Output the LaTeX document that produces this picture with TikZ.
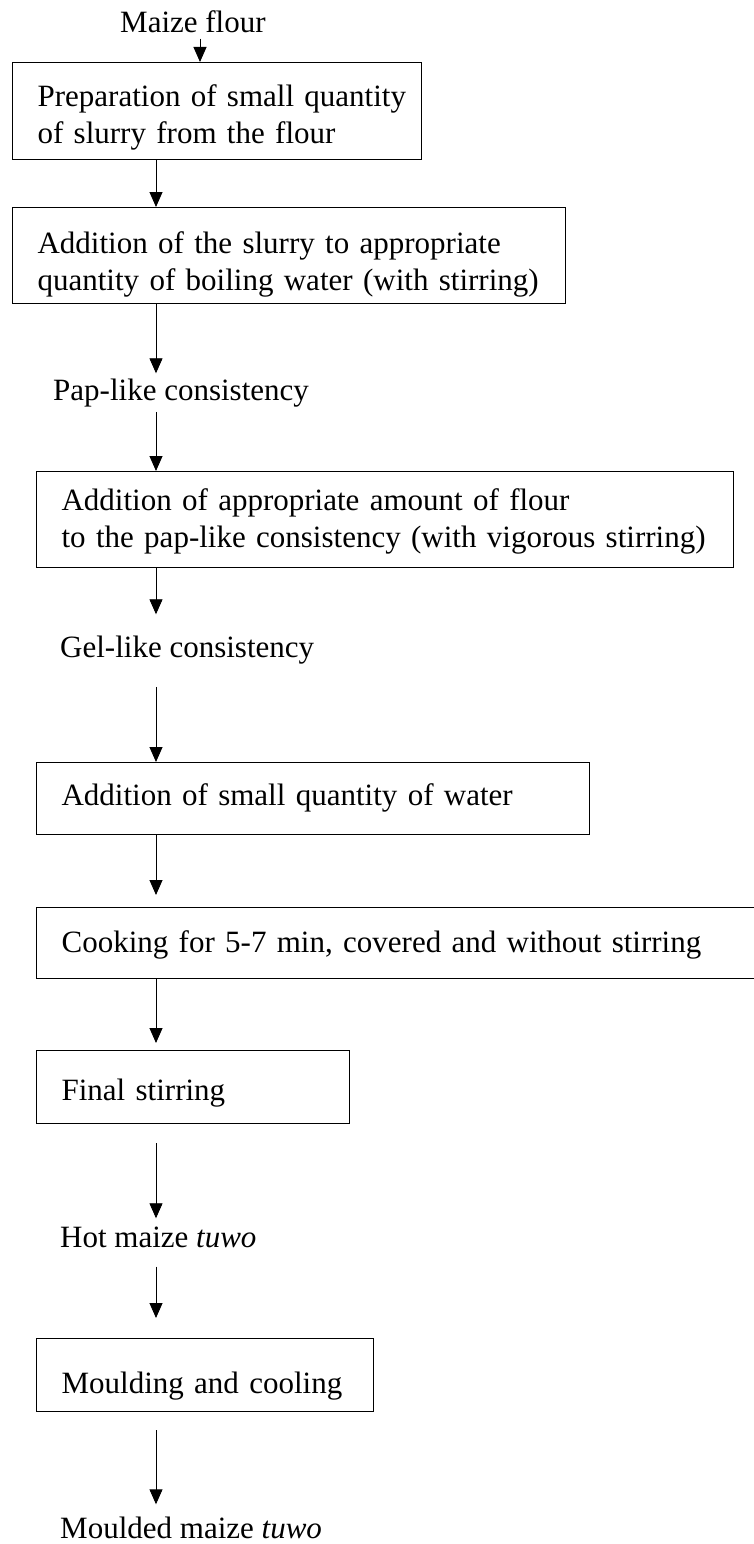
\documentclass[tikz,border=0pt]{standalone}
\usepackage{fontspec}
\setmainfont{Liberation Serif}
\usetikzlibrary{arrows.meta}
\tikzset{
  stepbox/.style={draw, line width=1.2pt, anchor=north west, inner xsep=25pt, inner ysep=0pt, align=left},
  product/.style={anchor=base west, inner xsep=0pt, inner ysep=5pt},
  flow/.style={-{Triangle[length=15pt,width=13pt]}, line width=0.9pt},
}
\begin{document}
\begin{tikzpicture}[x=1pt, y=-1pt, font=\fontsize{31}{37}\selectfont]
      \clip (0,0) rectangle (754,1544);
      \coordinate (inlet) at (200,0);
      \coordinate (axis) at (156,0);
      \node[product] (flour) at (120,33) {Maize flour};
      \node[stepbox, text width=359pt, minimum height=97pt, text height=24pt, text depth=33pt] (prep) at (12,62)
        {\mbox{Preparation of small quantity}\\of slurry from the flour};
      \node[stepbox, text width=503pt, minimum height=96pt, text height=24pt, text depth=28pt] (slurry) at (12,207)
        {Addition of the slurry to appropriate\\\mbox{quantity of boiling water (with stirring)}};
      \node[product] (pap) at (53,400) {Pap-like consistency};
      \node[stepbox, text width=647pt, minimum height=96pt, text height=24pt, text depth=42pt] (thicken) at (36,471)
        {Addition of appropriate amount of flour\\\mbox{to the pap-like consistency (with vigorous stirring)}};
      \node[product] (gel) at (60,657) {Gel-like consistency};
      \node[stepbox, text width=503pt, minimum height=72pt, text height=24pt, text depth=10pt] (water) at (36,762)
        {Addition of small quantity of water};
      \node[stepbox, text width=690pt, minimum height=71pt, text height=24pt, text depth=5pt] (cook) at (36,907)
        {Cooking for 5-7 min, covered and without stirring};
      \node[stepbox, text width=263pt, minimum height=73pt, text height=30pt, text depth=3pt] (stir) at (36,1050)
        {Final stirring};
      \node[product] (hot) at (60,1247) {Hot maize \textit{tuwo}};
      \node[stepbox, text width=287pt, minimum height=73pt, text height=38pt, text depth=1pt] (mould) at (36,1338)
        {\mbox{Moulding and cooling}};
      \node[product, inner ysep=1pt] (moulded) at (60,1538) {Moulded maize \textit{tuwo}};
      \begin{scope}[flow]
        \draw (flour.south -| inlet) to (prep.north -| inlet);
        \draw (prep.south -| axis) to (slurry.north -| axis);
        \draw (slurry.south -| axis) to (pap.north -| axis);
        \draw (pap.south -| axis) to (thicken.north -| axis);
        \draw[shorten >=16pt] (thicken.south -| axis) to (gel.north -| axis);
        \draw[shorten <=18pt] (gel.south -| axis) to (water.north -| axis);
        \draw[shorten >=12pt] (water.south -| axis) to (cook.north -| axis);
        \draw[shorten >=7pt] (cook.south -| axis) to (stir.north -| axis);
        \draw[shorten <=19pt, shorten >=3pt] (stir.south -| axis) to (hot.north -| axis);
        \draw[shorten <=14pt, shorten >=20pt] (hot.south -| axis) to (mould.north -| axis);
        \draw[shorten <=18pt, shorten >=11pt] (mould.south -| axis) to (moulded.north -| axis);
      \end{scope}
    \end{tikzpicture}
\end{document}
